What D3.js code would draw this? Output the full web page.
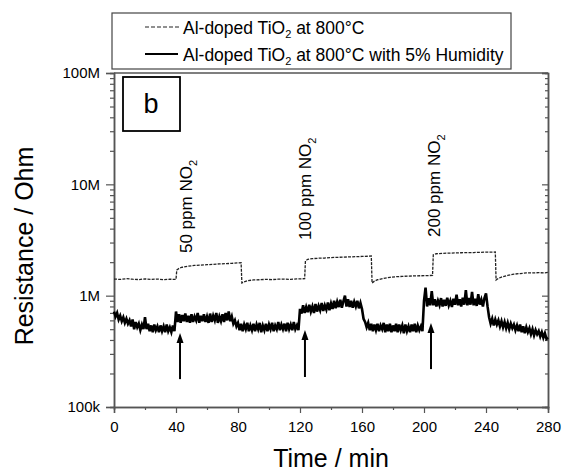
<!DOCTYPE html>
<html lang="en">
<head>
<meta charset="UTF-8">
<title>Resistance vs time</title>
<script src="https://d3js.org/d3.v7.min.js"></script>
<style>
  body { margin: 0; background: #fff; }
  text { font-family: "Liberation Sans", Arial, sans-serif; fill: #000; }
</style>
</head>
<body>
<div id="chart"></div>
<script>
// x ticks (min) and y ticks (kOhm)
var xTicks = [0, 40, 80, 120, 160, 200, 240, 280];
var xMinor = [20, 60, 100, 140, 180, 220, 260];
var yTicks = [100, 1000, 10000, 100000];
var yTickLabels = ["100k", "1M", "10M", "100M"];

// dashed series: Al-doped TiO2 at 800°C  (time in min, resistance in kOhm)
var dryTime = [0, 4, 8, 12, 16, 20, 24, 28, 32, 36, 40, 40.5, 42, 44, 48, 52, 56, 60, 64, 68, 72, 76, 80, 82,
  82.5, 84, 86, 90, 94, 98, 102, 106, 110, 114, 118, 123,
  123.5, 125, 128, 132, 136, 140, 144, 148, 152, 156, 160, 164, 166,
  166.5, 168, 170, 174, 178, 182, 186, 190, 194, 198, 202, 205.5,
  206, 208, 212, 216, 220, 224, 228, 232, 236, 240, 244, 246,
  246.5, 248, 250, 254, 258, 262, 266, 270, 274, 278, 280];
var dryRes = [1410, 1400, 1420, 1405, 1395, 1415, 1400, 1410, 1395, 1405, 1400, 1700, 1760, 1800, 1840, 1870, 1880, 1900, 1910, 1930, 1940, 1950, 1970, 1975,
  1300, 1330, 1360, 1385, 1390, 1400, 1395, 1405, 1410, 1400, 1415, 1420,
  2050, 2120, 2150, 2170, 2180, 2200, 2210, 2220, 2230, 2240, 2250, 2260, 2270,
  1300, 1350, 1390, 1430, 1460, 1480, 1490, 1500, 1505, 1510, 1515, 1520,
  2330, 2380, 2400, 2410, 2420, 2430, 2440, 2440, 2450, 2460, 2460, 2470,
  1380, 1430, 1470, 1520, 1560, 1580, 1600, 1600, 1610, 1600, 1620];

// solid series: with 5% humidity, one reading per minute (kOhm)
var humidRes = [
  720, 650, 700, 610, 660, 590, 640, 570, 620, 560,
  600, 530, 610, 500, 580, 520, 560, 490, 550, 500,
  640, 500, 560, 480, 540, 470, 550, 490, 530, 470,
  540, 480, 530, 470, 550, 480, 520, 470, 540, 480,
  720, 580, 680, 570, 670, 590, 690, 580, 660, 570,
  680, 580, 650, 600, 700, 570, 660, 590, 680, 580,
  650, 570, 690, 580, 660, 600, 700, 570, 650, 590,
  680, 580, 700, 600, 720, 590, 650, 560, 600, 530,
  570, 490, 560, 480, 550, 500, 570, 480, 540, 490,
  560, 480, 550, 500, 570, 470, 540, 490, 560, 480,
  550, 500, 570, 480, 540, 500, 580, 490, 550, 500,
  560, 480, 570, 500, 550, 490, 580, 500, 540, 490,
  760, 690, 820, 700, 790, 710, 830, 720, 800, 700,
  840, 720, 810, 740, 860, 730, 820, 750, 870, 740,
  850, 760, 900, 770, 880, 790, 920, 780, 890, 1000,
  800, 930, 790, 900, 780, 880, 800, 900, 770, 860,
  760, 620, 580, 520, 570, 490, 560, 480, 550, 490,
  560, 480, 540, 500, 570, 470, 550, 480, 560, 470,
  540, 480, 560, 470, 550, 490, 540, 460, 550, 480,
  530, 470, 550, 480, 560, 470, 540, 490, 530, 480,
  900, 1180, 800, 950, 820, 1100, 820, 930, 800, 900,
  820, 950, 800, 920, 810, 960, 820, 900, 790, 940,
  830, 1020, 820, 930, 800, 960, 830, 1120, 820, 950,
  830, 1080, 820, 940, 810, 1030, 830, 920, 800, 950,
  1050, 800, 640, 560, 620, 540, 610, 550, 600, 530,
  590, 520, 580, 510, 570, 500, 560, 510, 550, 490,
  540, 480, 550, 470, 530, 460, 520, 470, 510, 450,
  500, 440, 490, 450, 480, 430, 470, 420, 460, 410,
  420];
var humidTime = d3.range(humidRes.length);

// gas pulses: arrows and labels
var arrowTime = [42.6, 123.2, 204.5];
var arrowFrom = [178, 186, 219];
var arrowTo = [462, 492, 568];
var gasLabels = ["50 ppm NO", "100 ppm NO", "200 ppm NO"];
var gasLabelTime = [50, 127.4, 210.6];
var gasLabelRes = [2415, 3160, 3365];

var legendLabels = ["Al-doped TiO", "Al-doped TiO"];
var legendTails = [" at 800°C", " at 800°C with 5% Humidity"];

var W = 562, H = 473;
var svg = d3.select("#chart").append("svg")
  .attr("width", W).attr("height", H);

var x = d3.scaleLinear().domain([0, 280]).range([114, 548]);
var y = d3.scaleLog().domain([100, 100000]).range([407, 73]);

var yMinor = [];
yTicks.slice(0, 3).forEach(function(d) {
  for (var k = 2; k <= 9; k++) yMinor.push(d * k);
});

var axisColor = "#555";

// bottom axis
svg.append("g").attr("transform", "translate(0,407)")
  .call(d3.axisBottom(x).tickValues(xTicks).tickSize(6).tickPadding(8).tickFormat(d3.format("d")));
svg.append("g").attr("transform", "translate(0,407)")
  .call(d3.axisBottom(x).tickValues(xMinor).tickSize(3).tickFormat(""));

// left axis
svg.append("g").attr("transform", "translate(114,0)")
  .call(d3.axisLeft(y).tickValues(yTicks).tickSize(8).tickPadding(6)
    .tickFormat(function(d, i) { return yTickLabels[i]; }));
svg.append("g").attr("transform", "translate(114,0)")
  .call(d3.axisLeft(y).tickValues(yMinor).tickSize(4).tickFormat(""));

// right axis, ticks inward
svg.append("g").attr("transform", "translate(548,0)")
  .call(d3.axisLeft(y).tickValues(yTicks).tickSize(6).tickFormat(""));
svg.append("g").attr("transform", "translate(548,0)")
  .call(d3.axisLeft(y).tickValues(yMinor).tickSize(3).tickFormat(""));

svg.selectAll(".domain").attr("stroke", axisColor).attr("stroke-width", 1.5);
svg.selectAll(".tick line").attr("stroke", axisColor).attr("stroke-width", 1.2);
svg.selectAll(".tick text").style("font-size", "15px")
  .style("font-family", "'Liberation Sans', Arial, sans-serif").attr("fill", "#111");

// top frame line
svg.append("line")
  .attr("x1", x(0)).attr("x2", x(280)).attr("y1", y(100000)).attr("y2", y(100000))
  .attr("stroke", axisColor).attr("stroke-width", 1.5);

// axis titles
svg.append("text")
  .attr("x", (x(0) + x(280)) / 2).attr("y", 467)
  .attr("text-anchor", "middle").style("font-size", "25px")
  .text("Time / min");
svg.append("text")
  .attr("transform", "translate(33,246) rotate(-90)")
  .attr("text-anchor", "middle").style("font-size", "25px")
  .text("Resistance / Ohm");

// lines
var line = d3.line().x(function(d) { return x(d[0]); }).y(function(d) { return y(d[1]); });
svg.append("path")
  .datum(dryTime.map(function(t, i) { return [t, dryRes[i]]; }))
  .attr("fill", "none").attr("stroke", "#222").attr("stroke-width", 1.3)
  .attr("stroke-dasharray", "3,1.2")
  .attr("d", line);

svg.append("path")
  .datum(humidTime.map(function(t, i) { return [t, humidRes[i]]; }))
  .attr("fill", "none").attr("stroke", "#000").attr("stroke-width", 2.6)
  .attr("d", line);

// arrows
arrowTime.forEach(function(t, i) {
  var ax = x(t), top = y(arrowTo[i]);
  svg.append("line")
    .attr("x1", ax).attr("x2", ax)
    .attr("y1", y(arrowFrom[i])).attr("y2", top + 6)
    .attr("stroke", "#000").attr("stroke-width", 2);
  svg.append("path")
    .attr("d", "M" + (ax - 3.5) + "," + (top + 10) + "L" + ax + "," + top + "L" + (ax + 3.5) + "," + (top + 10) + "Z")
    .attr("fill", "#000");
});

// NO2 labels
gasLabels.forEach(function(lab, i) {
  var t = svg.append("text")
    .attr("transform", "translate(" + x(gasLabelTime[i]) + "," + y(gasLabelRes[i]) + ") rotate(-90)")
    .style("font-size", "17px");
  t.append("tspan").text(lab);
  t.append("tspan").attr("dy", 5).style("font-size", "11px").text("2");
});

// panel letter
svg.append("rect")
  .attr("x", 123).attr("y", 77).attr("width", 57).attr("height", 54)
  .attr("fill", "#fff").attr("stroke", "#000").attr("stroke-width", 1.8);
svg.append("text")
  .attr("x", 151).attr("y", 113).attr("text-anchor", "middle")
  .style("font-size", "27px").text("b");

// legend
svg.append("rect")
  .attr("x", 112).attr("y", 13).attr("width", 399).attr("height", 56)
  .attr("fill", "#fff").attr("stroke", "#444").attr("stroke-width", 1.2);
var legY = [27, 54];
svg.append("line").attr("x1", 145).attr("x2", 179).attr("y1", legY[0]).attr("y2", legY[0])
  .attr("stroke", "#222").attr("stroke-width", 1.2).attr("stroke-dasharray", "4,2");
svg.append("line").attr("x1", 145).attr("x2", 178).attr("y1", legY[1]).attr("y2", legY[1])
  .attr("stroke", "#000").attr("stroke-width", 2.2);
legendLabels.forEach(function(lab, i) {
  var t = svg.append("text").attr("x", 183).attr("y", legY[i] + 6.5).style("font-size", "17.5px");
  t.append("tspan").text(lab);
  t.append("tspan").attr("dy", 4).style("font-size", "11px").text("2");
  t.append("tspan").attr("dy", -4).text(legendTails[i]);
});
</script>
</body>
</html>
